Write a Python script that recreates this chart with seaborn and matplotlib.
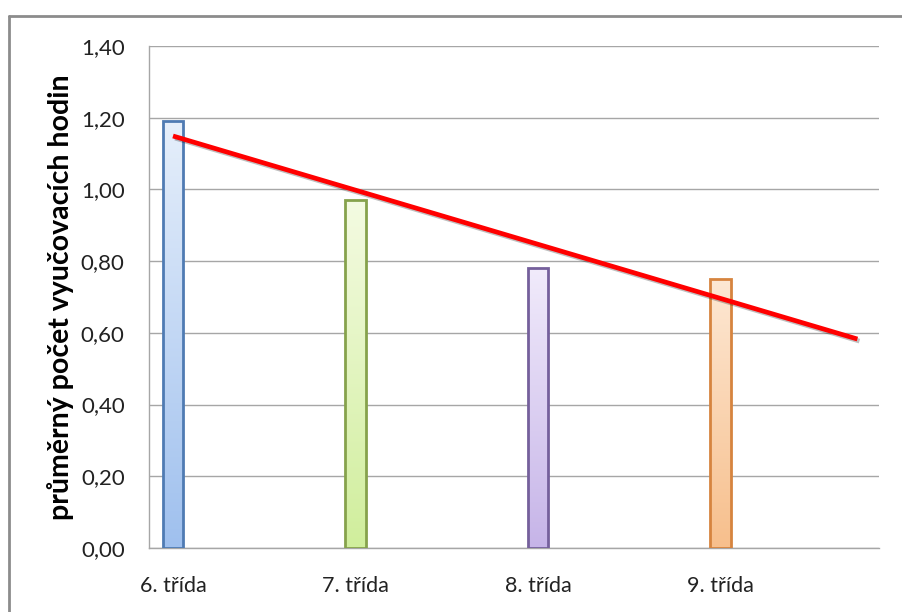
import numpy as np
import pandas as pd
import matplotlib
matplotlib.use("Agg")
import matplotlib.pyplot as plt
import matplotlib.patheffects as pe
from matplotlib.lines import Line2D
from matplotlib.colors import LinearSegmentedColormap
from matplotlib.ticker import FuncFormatter
import seaborn as sns

# Data
categories = ["6. třída", "7. třída", "8. třída", "9. třída"]
hours = [1.19, 0.97, 0.78, 0.75]
y_ticks = [0.0, 0.2, 0.4, 0.6, 0.8, 1.0, 1.2, 1.4]
y_label = "průměrný počet vyučovacích hodin"

# Bar styling: outline, light top, deeper bottom
edge_colors = ["#4f7bb3", "#86a24c", "#75609c", "#d6843f"]
top_colors = ["#e6effb", "#f4fbe2", "#f1ebfb", "#fde8d4"]
bottom_colors = ["#9fc0ee", "#d0ee9c", "#c6b4e8", "#f7bf8c"]

sns.set_style("white")
plt.rcParams["font.family"] = ["Lato", "DejaVu Sans"]

fig = plt.figure(figsize=(9.02, 6.12), dpi=100)
W, H = 902, 612
ax = fig.add_axes([149 / W, (H - 548) / H, 730 / W, 502 / H])

df = pd.DataFrame({"trida": categories, "hodiny": hours})
sns.barplot(data=df, x="trida", y="hodiny", hue="trida", palette=bottom_colors,
            dodge=False, legend=False, width=0.112, ax=ax, zorder=3)

# Vertical gradient fill clipped to each bar
for patch, ec, ctop, cbot in zip(ax.patches, edge_colors, top_colors, bottom_colors):
    patch.set_edgecolor(ec)
    patch.set_linewidth(2.0)
    x0, y0 = patch.get_x(), patch.get_y()
    w, h = patch.get_width(), patch.get_height()
    cmap = LinearSegmentedColormap.from_list("g", [cbot, ctop])
    grad = np.linspace(0, 1, 256).reshape(-1, 1)
    im = ax.imshow(grad, cmap=cmap, origin="lower", aspect="auto",
                   extent=(x0, x0 + w, y0, y0 + h), zorder=3.5)
    im.set_clip_path(patch)
    patch.set_facecolor("none")
    patch.set_zorder(4)

# Linear trend, extended forward
xi = np.arange(len(hours))
slope, intercept = np.polyfit(xi, hours, 1)
xt = np.array([0.0, 3.75])
ax.plot(xt, intercept + slope * xt, color="#ff0000", lw=3.4, zorder=5,
        solid_capstyle="butt",
        path_effects=[pe.SimpleLineShadow(offset=(1.5, -1.5), shadow_color="#000000", alpha=0.25),
                      pe.Normal()])

ax.set_xlim(-0.1315, 3.8685)
ax.set_ylim(0, 1.4)
ax.set_yticks(y_ticks)
ax.yaxis.set_major_formatter(FuncFormatter(lambda v, p: f"{v:.2f}".replace(".", ",")))
ax.grid(axis="y", color="#a6a6a6", lw=1.0, zorder=0)
ax.set_axisbelow(True)

for s in ["top", "right"]:
    ax.spines[s].set_visible(False)
for s in ["left", "bottom"]:
    ax.spines[s].set_color("#a6a6a6")
    ax.spines[s].set_linewidth(1.0)

ax.tick_params(axis="y", length=0, pad=17.5, labelsize=16, labelcolor="#222222")
ax.tick_params(axis="x", length=0, pad=20, labelsize=15.5, labelcolor="#222222")
ax.set_xlabel("")
ax.set_ylabel(y_label, fontsize=20.5, fontweight="bold", color="#000000")
ax.yaxis.set_label_coords(-0.103, 0.5)

# Chart frame
fig.add_artist(Line2D([8.5 / W, 8.5 / W], [0, 1 - 15.5 / H], color="#8c8c8c", lw=2,
                      transform=fig.transFigure))
fig.add_artist(Line2D([8.5 / W, 1], [1 - 15.5 / H, 1 - 15.5 / H], color="#8c8c8c", lw=2,
                      transform=fig.transFigure))

fig.savefig("out.png", dpi=100)
